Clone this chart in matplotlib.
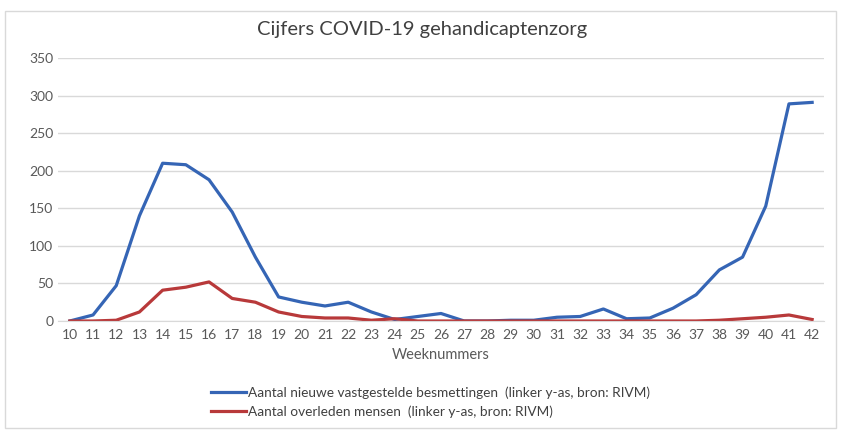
import matplotlib
matplotlib.use("Agg")
import matplotlib.pyplot as plt
from matplotlib.patches import Rectangle

weeks = list(range(10, 43))
besmettingen = [0, 8, 47, 140, 210, 208, 188, 145, 85, 32, 25, 20, 25, 12, 2, 6, 10,
                0, 0, 1, 1, 5, 6, 16, 3, 4, 17, 35, 68, 85, 153, 289, 291]
overleden = [0, 0, 1, 12, 41, 45, 52, 30, 25, 12, 6, 4, 4, 1, 3, 0, 0,
             0, 0, 0, 0, 0, 0, 0, 0, 0, 0, 0, 1, 3, 5, 8, 2]
yticks = [0, 50, 100, 150, 200, 250, 300, 350]

plt.rcParams['font.family'] = ['Lato', 'DejaVu Sans']

fig = plt.figure(figsize=(8.44, 4.30), dpi=100)
ax = fig.add_axes([0.069, 0.2535, 0.907, 0.6115])

# light frame round the whole chart, like the Excel chart area
fig.patches.append(Rectangle((0.006, 0.005), 0.984, 0.97, transform=fig.transFigure,
                             fill=False, edgecolor='#d9d9d9', linewidth=1))

ax.plot(weeks, besmettingen, color='#3565B5', linewidth=2.3,
        label='Aantal nieuwe vastgestelde besmettingen  (linker y-as, bron: RIVM)')
ax.plot(weeks, overleden, color='#B8393A', linewidth=2.3,
        label='Aantal overleden mensen  (linker y-as, bron: RIVM)')

ax.set_xlim(9.5, 42.5)
ax.set_ylim(0, 350)
ax.set_xticks(weeks)
ax.set_yticks(yticks)
ax.tick_params(axis='both', length=0, labelsize=10, colors='#595959')
ax.tick_params(axis='x', pad=6)
ax.grid(axis='y', color='#d9d9d9', linewidth=1)
ax.set_axisbelow(True)
for side in ['top', 'right', 'left']:
    ax.spines[side].set_visible(False)
ax.spines['bottom'].set_color('#d9d9d9')

ax.set_xlabel('Weeknummers', fontsize=10.5, color='#595959', labelpad=5)
fig.suptitle('Cijfers COVID-19 gehandicaptenzorg', fontsize=14.5, color='#404040', y=0.95)

fig.legend(loc='upper center', bbox_to_anchor=(0.51, 0.13), frameon=False, ncol=1,
           fontsize=9.8, labelcolor='#404040', handlelength=2.6, handletextpad=0.1,
           labelspacing=0.5)

fig.savefig('out.png', dpi=100)
